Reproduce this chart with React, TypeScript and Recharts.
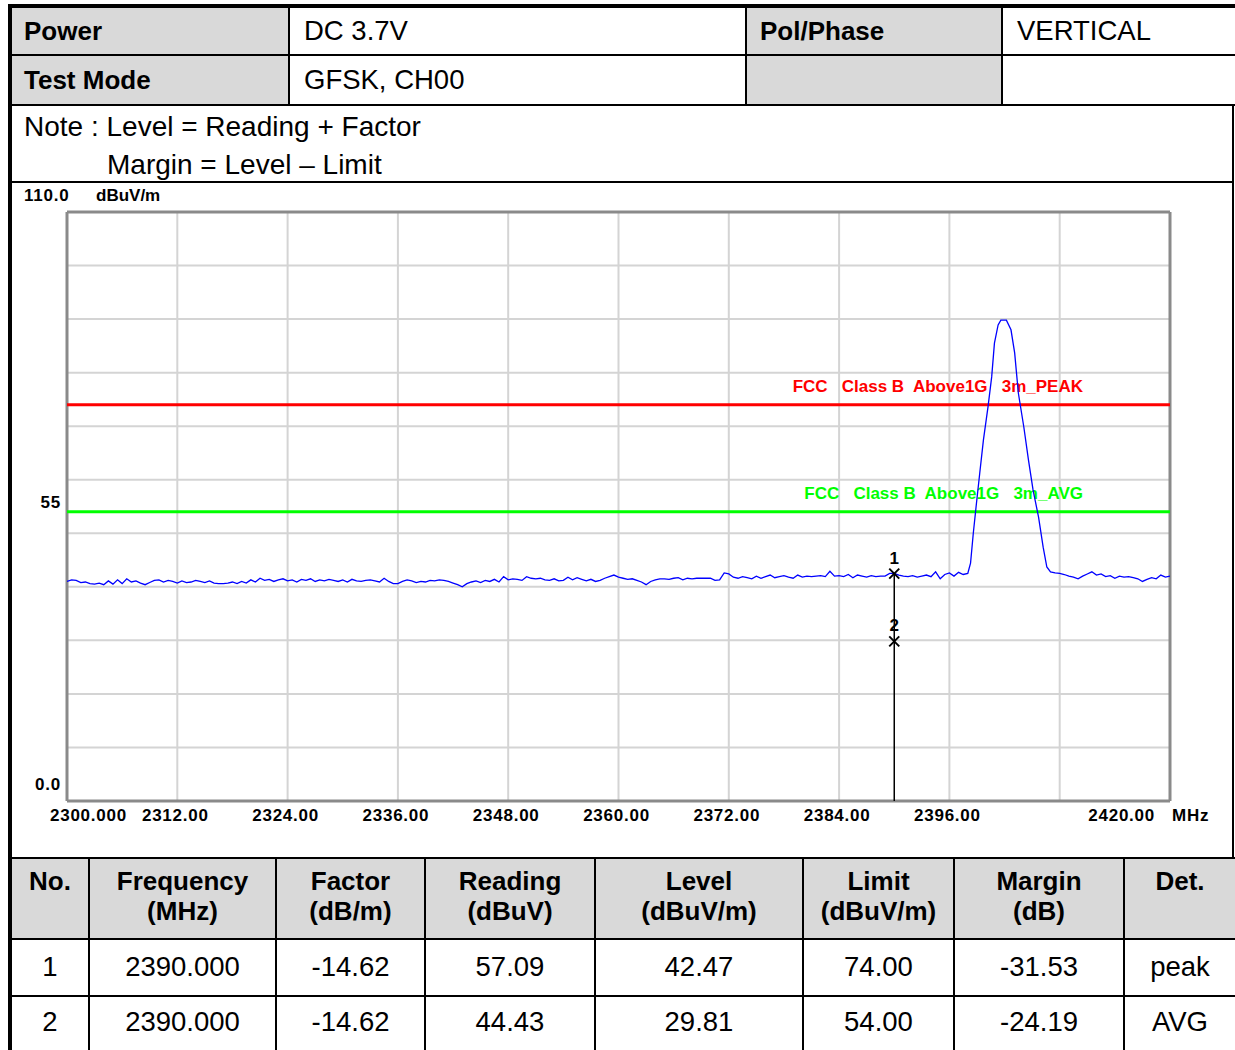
import React from "react";
import {
  ComposedChart,
  Line,
  XAxis,
  YAxis,
  ReferenceLine,
  ReferenceDot,
} from "recharts";

// sweep 2300.0 .. 2398.0 MHz, 0.5 MHz step
const lowBandLevels = [
  41.0, 41.3, 41.2, 40.8, 40.9, 40.6, 40.5, 40.7, 40.4, 41.1,
  40.5, 41.3, 40.6, 41.5, 40.9, 41.1, 40.7, 40.4, 40.8, 41.2,
  41.3, 40.9, 41.2, 41.0, 40.7, 41.1, 40.8, 40.9, 41.2, 41.0,
  40.8, 41.1, 40.7, 40.6, 40.6, 40.7, 40.9, 40.6, 41.0, 40.7,
  41.3, 40.9, 41.6, 41.2, 41.4, 41.0, 41.3, 41.5, 41.1, 41.3,
  40.9, 41.4, 41.2, 41.5, 41.0, 41.3, 41.1, 41.4, 41.2, 41.0,
  41.3, 40.9, 41.4, 41.1, 41.0, 41.2, 41.3, 41.1, 40.9, 41.6,
  41.0, 40.6, 40.6, 41.0, 41.3, 41.1, 40.8, 41.0, 40.9, 41.2,
  41.1, 41.3,
  41.2, 41.0, 40.7, 40.4, 40.0, 40.6, 40.9, 41.1, 40.8, 41.2,
  41.0, 41.4, 40.9, 41.9, 41.3, 41.5, 41.4, 41.2, 41.9, 41.6,
  41.5, 41.6, 41.3, 41.2, 41.5, 41.1, 41.2, 41.8, 41.3, 41.7,
  41.4, 41.1, 41.4, 41.0, 41.2, 41.6, 41.9, 42.2, 41.8, 41.6,
  41.4, 41.5, 41.2, 40.9, 40.4, 41.0, 41.3, 41.5, 41.5, 41.4,
  41.6, 41.7, 41.3, 41.6, 41.5, 41.6, 41.6, 41.6, 41.6, 41.2,
  41.3, 42.6, 42.4, 41.8, 41.6, 41.9, 41.7, 41.5, 42.0, 41.6,
  41.9, 42.2, 41.7, 41.9, 42.1, 41.8, 41.6, 42.2, 41.8, 42.0,
  41.9,
  42.0, 42.1, 41.9, 42.9, 42.0, 42.1, 41.9, 42.3, 41.7, 42.2,
  42.0, 41.8, 42.1, 41.9, 42.0, 42.0, 42.5, 42.5, 42.2, 42.0,
  41.9, 42.1, 41.8, 42.0, 42.2, 41.9, 42.8, 41.5, 42.3, 42.6,
  42.0, 42.7, 42.3, 42.5,
];
const peakFreqs = [
  2398.3, 2398.6, 2398.9, 2399.3, 2399.7, 2400.2, 2400.6, 2400.9, 2401.3, 2401.6,
  2402.2, 2402.7, 2403.1, 2403.5, 2404.1, 2404.6, 2405.1, 2405.7, 2406.2, 2406.6,
];
const peakLevels = [
  44.4, 50.0, 54.9, 61.2, 67.4, 73.6, 79.2, 85.5, 88.9, 89.8,
  89.8, 88.0, 83.7, 76.2, 69.8, 63.7, 58.1, 53.0, 47.4, 43.7,
];
// sweep 2407.0 .. 2420.0 MHz, 0.5 MHz step
const highBandLevels = [
  42.8, 42.6, 42.5, 42.3, 42.0, 41.8, 41.5, 42.0, 42.4, 42.8,
  42.2, 42.4, 41.9, 42.1, 41.6, 42.0, 41.8, 41.9, 41.7, 41.5,
  41.0, 41.4, 41.7, 41.5, 42.2, 41.8, 42.0,
];
const sweepStep = 0.5;

const xTicks = [2300, 2312, 2324, 2336, 2348, 2360, 2372, 2384, 2396, 2420];
const xTickLabels = ["2300.000", "2312.00", "2324.00", "2336.00", "2348.00", "2360.00", "2372.00", "2384.00", "2396.00", "2420.00"];
const xGrid = [2312, 2324, 2336, 2348, 2360, 2372, 2384, 2396, 2408];
const yTicks = [0, 55, 110];
const yTickLabels = ["0.0", "55", "110.0"];
const yGrid = [10, 20, 30, 40, 50, 60, 70, 80, 90, 100];

const limitValues = [74, 54];
const limitNames = ["FCC   Class B  Above1G   3m_PEAK", "FCC   Class B  Above1G   3m_AVG"];
const limitColors = ["#ff0000", "#00ff00"];

const markerNos = ["1", "2"];
const markerFreqs = [2390, 2390];
const markerLevels = [42.47, 29.81];

const tableHeads = ["No.", "Frequency", "Factor", "Reading", "Level", "Limit", "Margin", "Det."];
const tableUnits = ["", "(MHz)", "(dB/m)", "(dBuV)", "(dBuV/m)", "(dBuV/m)", "(dB)", ""];
const rowFreq = ["2390.000", "2390.000"];
const rowFactor = ["-14.62", "-14.62"];
const rowReading = ["57.09", "44.43"];
const rowLevel = ["42.47", "29.81"];
const rowLimit = ["74.00", "54.00"];
const rowMargin = ["-31.53", "-24.19"];
const rowDet = ["peak", "AVG"];

const trace = [
  ...lowBandLevels.map((v, i) => ({ freq: 2300 + i * sweepStep, level: v })),
  ...peakFreqs.map((f, i) => ({ freq: f, level: peakLevels[i] })),
  ...highBandLevels.map((v, i) => ({ freq: 2407 + i * sweepStep, level: v })),
];

const GRAY = "#d9d9d9";
const chartFont = { fontFamily: "'Liberation Sans', Arial, sans-serif", fontWeight: 700, fontSize: 17 };
const tickFont = { ...chartFont, letterSpacing: 0.75 };

function FreqTick(props: any) {
  const { x, y, payload, index } = props;
  const last = index === xTicks.length - 1;
  let anchor: any = "middle";
  let dx = -2;
  if (index === 0) {
    anchor = "start";
    dx = -17;
  }
  if (last) {
    anchor = "end";
    dx = -15;
  }
  const i = xTicks.indexOf(payload.value);
  return (
    <g>
      <text x={x + dx} y={y + 20} textAnchor={anchor} fill="#000" style={tickFont}>
        {xTickLabels[i]}
      </text>
      {last && (
        <text x={x + 2} y={y + 20} textAnchor="start" fill="#000" style={tickFont}>
          MHz
        </text>
      )}
    </g>
  );
}

function LevelTick(props: any) {
  const { x, y, payload } = props;
  const i = yTicks.indexOf(payload.value);
  if (payload.value === 110) {
    return (
      <g>
        <text x={x - 43} y={y - 11} fill="#000" style={tickFont}>{yTickLabels[i]}</text>
        <text x={x + 29} y={y - 11} fill="#000" style={chartFont}>dBuV/m</text>
      </g>
    );
  }
  const dy = payload.value === 0 ? -11 : 1.5;
  return (
    <text x={x - 6} y={y + dy} textAnchor="end" fill="#000" style={tickFont}>
      {yTickLabels[i]}
    </text>
  );
}

function LimitLabel(props: any) {
  const { viewBox, text, color } = props;
  return (
    <text
      x={viewBox.x + viewBox.width - 87}
      y={viewBox.y - 13}
      textAnchor="end"
      fill={color}
      style={{ ...chartFont, whiteSpace: "pre" }}
    >
      {text}
    </text>
  );
}

function MarkerShape(props: any) {
  const { cx, cy, no } = props;
  return (
    <g>
      <line x1={cx - 5} y1={cy - 5} x2={cx + 5} y2={cy + 5} stroke="#000" strokeWidth={2} />
      <line x1={cx - 5} y1={cy + 5} x2={cx + 5} y2={cy - 5} stroke="#000" strokeWidth={2} />
      <text x={cx} y={cy - 10} textAnchor="middle" fill="#000" style={chartFont}>{no}</text>
    </g>
  );
}

function Box({ l, t, w, h, bg }: any) {
  return <div style={{ position: "absolute", left: l, top: t, width: w, height: h, background: bg }} />;
}

function Txt({ l, t, w, h, bold, children, center, size }: any) {
  return (
    <div
      style={{
        position: "absolute",
        left: l,
        top: t,
        width: w,
        height: h,
        lineHeight: h + "px",
        fontWeight: bold ? 700 : 400,
        fontSize: size || (bold ? 26 : 27.5),
        textAlign: center ? "center" : "left",
        whiteSpace: "pre",
      }}
    >
      {children}
    </div>
  );
}

function SpectrumChart() {
  return (
    <ComposedChart
      width={1220}
      height={673}
      data={trace}
      margin={{ top: 28, right: 62, left: 0, bottom: 0 }}
    >
      <XAxis
        dataKey="freq"
        type="number"
        domain={[2300, 2420]}
        ticks={xTicks}
        interval={0}
        axisLine={false}
        tickLine={false}
        tickSize={0}
        tickMargin={0}
        height={56}
        tick={<FreqTick />}
        allowDataOverflow
      />
      <YAxis
        type="number"
        domain={[0, 110]}
        ticks={yTicks}
        interval={0}
        axisLine={false}
        tickLine={false}
        tickSize={0}
        tickMargin={0}
        width={55}
        tick={<LevelTick />}
        allowDataOverflow
      />
      {yGrid.map((v) => (
        <ReferenceLine key={"gy" + v} y={v} stroke="#d4d4d4" strokeWidth={2} />
      ))}
      {xGrid.map((v) => (
        <ReferenceLine key={"gx" + v} x={v} stroke="#d4d4d4" strokeWidth={2} />
      ))}
      <ReferenceLine y={110} stroke="#8a8a8a" strokeWidth={3} />
      <ReferenceLine y={0} stroke="#8a8a8a" strokeWidth={3} />
      <ReferenceLine x={2300} stroke="#8a8a8a" strokeWidth={3} />
      <ReferenceLine x={2420} stroke="#8a8a8a" strokeWidth={3} />
      {limitValues.map((v, i) => (
        <ReferenceLine
          key={"lim" + i}
          y={v}
          stroke={limitColors[i]}
          strokeWidth={3}
          label={<LimitLabel text={limitNames[i]} color={limitColors[i]} />}
        />
      ))}
      <ReferenceLine
        segment={[
          { x: markerFreqs[0], y: 0 },
          { x: markerFreqs[0], y: markerLevels[0] },
        ]}
        stroke="#000"
        strokeWidth={1.5}
      />
      <Line
        type="linear"
        dataKey="level"
        stroke="#0000ff"
        strokeWidth={1.3}
        dot={false}
        isAnimationActive={false}
      />
      {markerNos.map((no, i) => (
        <ReferenceDot
          key={"m" + no}
          x={markerFreqs[i]}
          y={markerLevels[i]}
          r={6}
          shape={(p: any) => <MarkerShape {...p} no={no} />}
        />
      ))}
    </ComposedChart>
  );
}

const colEdges = [12, 88, 275, 424, 594, 802, 953, 1123, 1235];

export default function App() {
  const rows = [0, 1].map((r) => [
    markerNos[r],
    rowFreq[r],
    rowFactor[r],
    rowReading[r],
    rowLevel[r],
    rowLimit[r],
    rowMargin[r],
    rowDet[r],
  ]);
  const rowTops = [940, 997];
  const rowHeights = [54, 50];
  return (
    <div
      style={{
        position: "absolute",
        left: 0,
        top: 0,
        width: 1235,
        height: 1050,
        overflow: "hidden",
        background: "#fff",
        fontFamily: "'Liberation Sans', Arial, sans-serif",
        color: "#000",
      }}
    >
      {/* gray header cells */}
      <Box l={12} t={8} w={276} h={47} bg={GRAY} />
      <Box l={12} t={56} w={276} h={49} bg={GRAY} />
      <Box l={747} t={8} w={254} h={47} bg={GRAY} />
      <Box l={747} t={56} w={254} h={49} bg={GRAY} />
      <Box l={12} t={859} w={1223} h={79} bg={GRAY} />

      <div style={{ position: "absolute", left: 12, top: 184 }}>
        <SpectrumChart />
      </div>

      {/* frame lines */}
      <Box l={8} t={4} w={1227} h={4} bg="#000" />
      <Box l={8} t={4} w={4} h={1046} bg="#000" />
      <Box l={12} t={54} w={1223} h={2} bg="#000" />
      <Box l={12} t={104} w={1223} h={2} bg="#000" />
      <Box l={12} t={181} w={1221} h={2} bg="#000" />
      <Box l={12} t={857} w={1223} h={2} bg="#000" />
      <Box l={12} t={938} w={1223} h={2} bg="#000" />
      <Box l={12} t={995} w={1223} h={2} bg="#000" />
      <Box l={288} t={8} w={2} h={97} bg="#000" />
      <Box l={745} t={8} w={2} h={97} bg="#000" />
      <Box l={1001} t={8} w={2} h={97} bg="#000" />
      <Box l={1232} t={104} w={2} h={754} bg="#000" />
      {colEdges.slice(1, -1).map((x) => (
        <Box key={"c" + x} l={x} t={857} w={2} h={193} bg="#000" />
      ))}

      <Txt l={24} t={8} w={260} h={46} bold>Power</Txt>
      <Txt l={304} t={8} w={430} h={46}>DC 3.7V</Txt>
      <Txt l={760} t={8} w={240} h={46} bold>Pol/Phase</Txt>
      <Txt l={1017} t={8} w={215} h={46}>VERTICAL</Txt>
      <Txt l={24} t={56} w={260} h={48} bold>Test Mode</Txt>
      <Txt l={304} t={56} w={430} h={48}>GFSK, CH00</Txt>
      <Txt l={24} t={108} w={800} h={38} size={28}>Note : Level = Reading + Factor</Txt>
      <Txt l={107} t={146} w={800} h={38} size={28}>Margin = Level – Limit</Txt>

      {tableHeads.map((h, i) => (
        <div
          key={"h" + i}
          style={{
            position: "absolute",
            left: colEdges[i] + (i === 0 ? 0 : 2),
            top: 866,
            width: colEdges[i + 1] - colEdges[i] - (i === 0 ? 0 : 2),
            lineHeight: "30px",
            fontSize: 26,
            fontWeight: 700,
            textAlign: "center",
          }}
        >
          <div>{h}</div>
          <div>{tableUnits[i] || "\u00a0"}</div>
        </div>
      ))}
      {rows.map((cells, r) =>
        cells.map((c, i) => (
          <Txt
            key={"r" + r + "c" + i}
            l={colEdges[i] + (i === 0 ? 0 : 2)}
            t={rowTops[r]}
            w={colEdges[i + 1] - colEdges[i] - (i === 0 ? 0 : 2)}
            h={rowHeights[r]}
            center
          >
            {c}
          </Txt>
        ))
      )}
    </div>
  );
}
